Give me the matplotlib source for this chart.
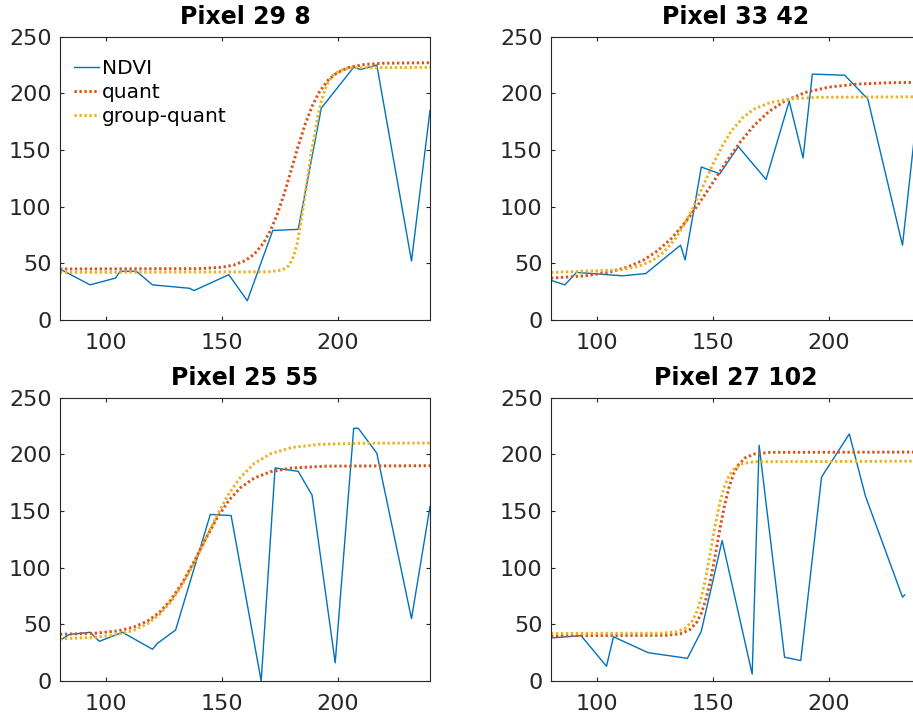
import matplotlib
matplotlib.use("Agg")
import matplotlib.pyplot as plt

titles = ["Pixel 29 8", "Pixel 33 42", "Pixel 25 55", "Pixel 27 102"]

# NDVI observations per pixel (day of year, value)
ndvi_x_1 = [80, 93, 104, 106, 113, 120, 136, 138, 153, 161, 172, 183, 193, 207, 210, 217, 232, 240]
ndvi_y_1 = [45, 31, 37, 43, 43, 31, 28, 26, 40, 17, 79, 80, 187, 223, 221, 225, 52, 185]
ndvi_x_2 = [80, 86, 91, 111, 121, 136, 138, 145, 153, 161, 173, 183, 189, 193, 207, 217, 232, 240]
ndvi_y_2 = [35, 31, 42, 39, 41, 66, 53, 135, 129, 153, 124, 193, 143, 217, 216, 195, 66, 215]
ndvi_x_3 = [80, 84, 93, 97, 107, 120, 122, 130, 145, 154, 167, 173, 183, 189, 199, 207, 209, 217, 232, 240]
ndvi_y_3 = [36, 41, 43, 35, 43, 28, 33, 45, 147, 146, 0, 188, 185, 164, 16, 223, 223, 201, 55, 154]
ndvi_x_4 = [80, 93, 104, 107, 122, 139, 145, 154, 167, 170, 181, 188, 197, 209, 216, 232, 233]
ndvi_y_4 = [38, 40, 13, 39, 25, 20, 44, 124, 6, 208, 21, 18, 180, 218, 163, 74, 76]

# fitted curves
quant_x_1 = [80, 140, 150, 155, 160, 164, 168, 171, 174, 177, 180, 183, 186, 189, 192, 196, 200, 205, 212, 220, 240]
quant_y_1 = [45, 45.3, 46.6, 48.4, 52.3, 58.1, 67.9, 79, 93.6, 111.8, 132.4, 153.5, 172.6, 188.6, 200.8, 211.9, 218.4, 223, 225.6, 226.6, 227]
group_x_1 = [80, 170, 176, 179, 181, 182.5, 184, 185.5, 187, 188.5, 190, 191.5, 193, 194.5, 196, 198, 201, 205, 240]
group_y_1 = [42, 42.5, 44, 48, 56, 67, 84, 104, 124, 146, 162, 180, 193, 203, 210, 216, 220, 222.5, 223]

quant_x_2 = [80, 95, 105, 113, 120, 126, 132, 138, 144, 150, 156, 162, 168, 174, 181, 190, 200, 212, 225, 240]
quant_y_2 = [37, 39, 42.1, 46.6, 52.9, 60.9, 71.8, 86, 102.8, 121.3, 140.2, 157.5, 172, 183.6, 193.1, 200.8, 205.5, 208.1, 209.3, 209.8]
group_x_2 = [80, 110, 118, 124, 129, 134, 138, 142, 146, 150, 154, 158, 163, 168, 175, 183, 195, 240]
group_y_2 = [42, 44.2, 47.5, 52.7, 60.3, 72.2, 85.6, 101.7, 119.5, 137.3, 153.4, 166.8, 178.7, 186.3, 192, 195, 196.5, 197]

quant_x_3 = [80, 95, 105, 112, 118, 123, 128, 133, 138, 143, 148, 153, 158, 164, 171, 180, 195, 240]
quant_y_3 = [41.2, 42.1, 44.2, 47.6, 53.1, 60.5, 71.7, 86.9, 105.5, 125.5, 144.1, 159.3, 170.5, 179.1, 184.6, 187.9, 189.6, 190]
group_x_3 = [80, 95, 105, 112, 118, 123, 128, 133, 138, 143, 148, 153, 158, 164, 171, 180, 192, 210, 240]
group_y_3 = [37.3, 38.5, 41, 44.8, 50.7, 58.6, 69.9, 85.3, 104.3, 125.6, 146.7, 165.2, 179.7, 192, 200.5, 206, 208.8, 209.8, 210]

quant_x_4 = [80, 130, 136, 140, 143, 145, 147, 149, 151, 153, 155, 157, 159, 161, 164, 168, 175, 240]
quant_y_4 = [40, 40.3, 41.7, 45.3, 51.8, 59.8, 72.1, 89.3, 110.6, 133.5, 154.6, 171.2, 183, 190.7, 197, 200.4, 201.8, 202]
group_x_4 = [80, 128, 134, 138, 141, 143, 145, 147, 149, 151, 153, 155, 157, 159.5, 163, 168, 240]
group_y_4 = [42, 42.2, 43.3, 46.4, 52.8, 60.8, 73.8, 92, 114.6, 137.6, 157.4, 171.8, 181.2, 187.8, 191.9, 193.5, 194]

ndvi = [(ndvi_x_1, ndvi_y_1), (ndvi_x_2, ndvi_y_2), (ndvi_x_3, ndvi_y_3), (ndvi_x_4, ndvi_y_4)]
quant = [(quant_x_1, quant_y_1), (quant_x_2, quant_y_2), (quant_x_3, quant_y_3), (quant_x_4, quant_y_4)]
group = [(group_x_1, group_y_1), (group_x_2, group_y_2), (group_x_3, group_y_3), (group_x_4, group_y_4)]

axcol = (0.15, 0.15, 0.15)
fig = plt.figure(figsize=(9.13, 7.17), dpi=100)
W, H = 913.0, 717.0
boxes = [(60, 320), (551, 320), (60, 681), (551, 681)]

for i in range(4):
    left, bottom = boxes[i]
    ax = fig.add_axes([left / W, (H - bottom) / H, 370 / W, 283.3 / H])
    ax.plot(ndvi[i][0], ndvi[i][1], color="#0072BD", lw=1.0, label="NDVI")
    ax.plot(quant[i][0], quant[i][1], color="#D95319", lw=2.1, ls=(0, (0.8, 0.9)), label="quant")
    ax.plot(group[i][0], group[i][1], color="#EDB120", lw=2.1, ls=(0, (0.8, 0.9)), label="group-quant")
    ax.set_xlim(80, 240)
    ax.set_ylim(0, 250)
    ax.set_xticks([100, 150, 200])
    ax.set_yticks([0, 50, 100, 150, 200, 250])
    ax.tick_params(direction="in", length=2.8, width=0.8, colors=axcol, labelsize=16,
                   top=True, right=True)
    ax.tick_params(axis="x", pad=9)
    ax.tick_params(axis="y", pad=6)
    for s in ax.spines.values():
        s.set_color(axcol)
        s.set_linewidth(0.8)
    ax.set_title(titles[i], fontsize=17, fontweight="bold", pad=9)
    if i == 0:
        ax.legend(loc="upper left", frameon=False, fontsize=14.5, handlelength=1.25,
                  handletextpad=0.15, labelspacing=0.25, borderaxespad=0.3,
                  bbox_to_anchor=(0.0, 0.97))

fig.savefig("out.png", dpi=100)
